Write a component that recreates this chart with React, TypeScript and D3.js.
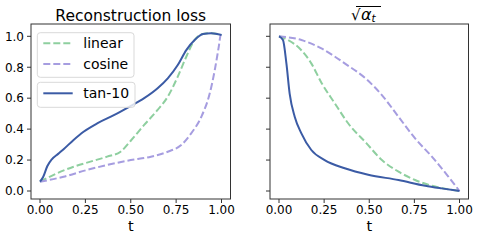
import React from "react";
import * as d3 from "d3";

// ---------- data ----------
const lossTan10T = [0, 0.018, 0.04, 0.065, 0.1, 0.13, 0.185, 0.24, 0.315, 0.407, 0.5, 0.574, 0.648, 0.704, 0.759, 0.806, 0.852, 0.898, 0.944, 1.0];
const lossTan10V = [0.06, 0.092, 0.16, 0.205, 0.24, 0.27, 0.33, 0.383, 0.437, 0.49, 0.55, 0.6, 0.664, 0.728, 0.814, 0.911, 0.976, 1.015, 1.02, 1.008];

const lossLinearT = [0, 0.093, 0.185, 0.278, 0.37, 0.444, 0.5, 0.574, 0.648, 0.704, 0.759, 0.806, 0.852, 0.898, 0.944, 1.0];
const lossLinearV = [0.06, 0.114, 0.157, 0.19, 0.222, 0.254, 0.325, 0.427, 0.524, 0.61, 0.739, 0.868, 0.976, 1.015, 1.02, 1.008];

const lossCosineT = [0, 0.13, 0.259, 0.37, 0.5, 0.611, 0.704, 0.778, 0.833, 0.889, 0.935, 0.963, 0.985, 0.996, 1.0];
const lossCosineV = [0.06, 0.092, 0.136, 0.168, 0.2, 0.222, 0.254, 0.297, 0.373, 0.48, 0.63, 0.782, 0.933, 1.008, 1.008];

const alphaTan10T = [0, 0.022, 0.041, 0.059, 0.087, 0.124, 0.179, 0.253, 0.364, 0.494, 0.662, 0.81, 0.9, 1.0];
const alphaTan10V = [1.0, 0.976, 0.825, 0.63, 0.48, 0.373, 0.265, 0.2, 0.147, 0.105, 0.071, 0.034, 0.017, 0.0];

const alphaLinearT = [0, 0.05, 0.124, 0.179, 0.235, 0.309, 0.383, 0.485, 0.57, 0.662, 0.754, 0.847, 1.0];
const alphaLinearV = [1.0, 0.976, 0.91, 0.825, 0.7, 0.567, 0.438, 0.308, 0.2, 0.125, 0.071, 0.034, 0.0];

const alphaCosineT = [0, 0.124, 0.235, 0.364, 0.485, 0.57, 0.662, 0.754, 0.847, 0.939, 1.0];
const alphaCosineV = [1.0, 0.976, 0.922, 0.825, 0.722, 0.62, 0.48, 0.34, 0.222, 0.092, 0.0];

const xTicks = [0, 0.25, 0.5, 0.75, 1.0];
const yTicks = [0, 0.2, 0.4, 0.6, 0.8, 1.0];
const legendLabels = ["linear", "cosine", "tan-10"];

const BLUE = "#3b5ba5";
const GREEN = "#8ecf9f";
const PURPLE = "#a69de0";
const FONT = "DejaVu Sans";

const zip = (t: number[], v: number[]) => t.map((d, i) => [d, v[i]] as [number, number]);

function Panel({ left, right, title, series, showYLabels, children }: any) {
  const top = 24, bottom = 199;
  const x = d3.scaleLinear().domain([0, 1]).range([left + 9, right - 9]);
  const y = d3.scaleLinear().domain([0, 1]).range([191, 36.3]);
  const line = d3.line<[number, number]>().x(d => x(d[0])).y(d => y(d[1])).curve(d3.curveMonotoneX);
  return (
    <g>
      {series.map((s: any, i: number) => (
        <path key={i} d={line(s.data) || ""} fill="none" stroke={s.color} strokeWidth={2}
          strokeDasharray={s.dashed ? "7 3" : undefined} strokeLinecap="butt" strokeLinejoin="round" />
      ))}
      {children}
      <rect x={left} y={top} width={right - left} height={bottom - top} fill="none" stroke="#333" strokeWidth={1} />
      {xTicks.map(t => (
        <g key={t}>
          <line x1={x(t)} x2={x(t)} y1={bottom} y2={bottom + 4} stroke="#333" strokeWidth={1} />
          <text x={x(t)} y={214} textAnchor="middle" fontSize={12} fontFamily={FONT} fill="#000">{t.toFixed(2)}</text>
        </g>
      ))}
      {yTicks.map(t => (
        <g key={t}>
          <line x1={left - 4} x2={left} y1={y(t)} y2={y(t)} stroke="#333" strokeWidth={1} />
          {showYLabels && (
            <text x={left - 7} y={y(t) + 4.3} textAnchor="end" fontSize={12} fontFamily={FONT} fill="#000">{t.toFixed(1)}</text>
          )}
        </g>
      ))}
      <text x={(left + right) / 2} y={231} textAnchor="middle" fontSize={14.5} fontFamily={FONT} fill="#000">t</text>
      {title}
    </g>
  );
}

export default function App() {
  const leftSeries = [
    { data: zip(lossLinearT, lossLinearV), color: GREEN, dashed: true },
    { data: zip(lossCosineT, lossCosineV), color: PURPLE, dashed: true },
    { data: zip(lossTan10T, lossTan10V), color: BLUE, dashed: false },
  ];
  const rightSeries = [
    { data: zip(alphaLinearT, alphaLinearV), color: GREEN, dashed: true },
    { data: zip(alphaCosineT, alphaCosineV), color: PURPLE, dashed: true },
    { data: zip(alphaTan10T, alphaTan10V), color: BLUE, dashed: false },
  ];
  const handleY = [43.3, 64, 93.3];
  const handleColors = [GREEN, PURPLE, BLUE];
  return (
    <svg width={479} height={240} style={{ position: "absolute", left: 0, top: 0, background: "#fff" }}>
      <rect width={479} height={240} fill="#fff" />
      <Panel left={31} right={230.5} series={leftSeries} showYLabels={true}
        title={<text x={130.75} y={20.5} textAnchor="middle" fontSize={15.5} fontFamily={FONT} fill="#000">Reconstruction loss</text>}>
        <rect x={37.3} y={32.7} width={96.7} height={44.6} rx={3} fill="#fff" fillOpacity={0.8} stroke="#d9d9d9" strokeWidth={1} />
        <rect x={37.3} y={82.3} width={97.7} height={25} rx={3} fill="#fff" fillOpacity={0.8} stroke="#d9d9d9" strokeWidth={1} />
        {legendLabels.map((l, i) => (
          <g key={l}>
            <line x1={43.3} x2={72.7} y1={handleY[i]} y2={handleY[i]} stroke={handleColors[i]} strokeWidth={2}
              strokeDasharray={i < 2 ? "7 3" : undefined} />
            <text x={83.3} y={handleY[i] + 5} fontSize={14} fontFamily={FONT} fill="#000">{l}</text>
          </g>
        ))}
      </Panel>
      <Panel left={270} right={468.5} series={rightSeries} showYLabels={false}
        title={
          <g>
            <line x1={356} x2={381} y1={6.5} y2={6.5} stroke="#000" strokeWidth={1} />
            <text x={351} y={20} fontSize={15} fontFamily={FONT} fill="#000">
              √<tspan dx={0.5} fontSize={16} fontStyle="italic">α</tspan>
              <tspan dy={2} fontSize={10.5} fontStyle="italic">t</tspan>
            </text>
          </g>
        } />
    </svg>
  );
}
